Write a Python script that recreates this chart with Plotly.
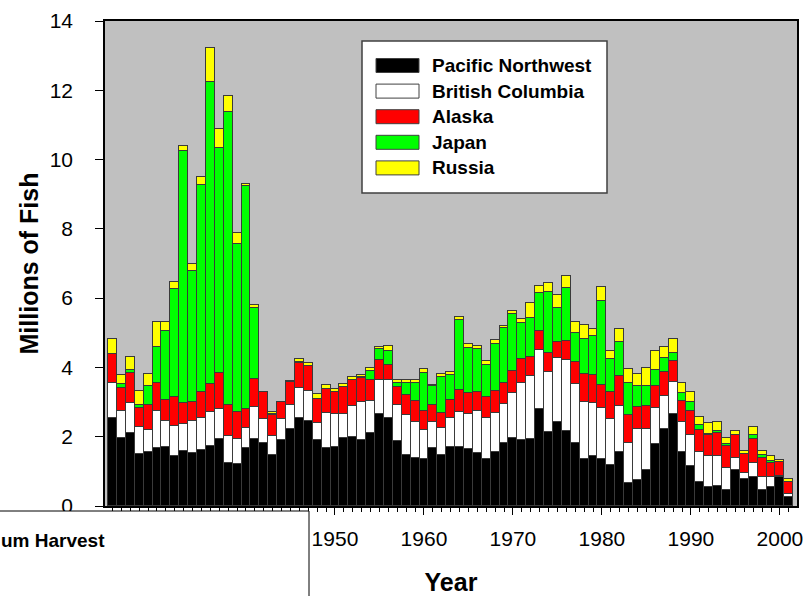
import plotly.graph_objects as go

years = list(range(1925, 2002))

pacific_northwest = [2.54, 1.95, 2.10, 1.50, 1.55, 1.66, 1.71, 1.44, 1.59, 1.52,
                     1.63, 1.74, 1.92, 1.25, 1.20, 1.68, 1.92, 1.82, 1.47, 1.90,
                     2.22, 2.53, 2.46, 1.90, 1.66, 1.69, 1.95, 2.00, 1.90, 2.10,
                     2.67, 2.54, 1.87, 1.48, 1.40, 1.37, 1.66, 1.48, 1.71, 1.71,
                     1.65, 1.53, 1.35, 1.56, 1.81, 1.95, 1.90, 1.92, 2.80, 2.14,
                     2.43, 2.16, 1.81, 1.35, 1.44, 1.37, 1.18, 1.55, 0.67, 0.75,
                     1.04, 1.79, 2.21, 2.67, 1.55, 1.15, 0.70, 0.54, 0.59, 0.46,
                     1.04, 0.78, 0.83, 0.46, 0.56, 0.83, 0.27]

british_columbia = [1.02, 0.80, 0.86, 0.77, 0.64, 1.08, 0.74, 0.87, 0.77, 0.94,
                    0.90, 0.96, 0.87, 0.77, 0.73, 0.58, 0.94, 0.68, 0.55, 0.60,
                    0.71, 0.88, 0.85, 0.50, 1.03, 0.98, 0.72, 0.90, 1.09, 0.93,
                    0.98, 1.09, 1.06, 1.16, 1.02, 0.81, 0.76, 0.76, 0.83, 0.99,
                    1.01, 1.22, 1.18, 1.13, 1.14, 1.30, 1.66, 1.83, 1.70, 1.73,
                    1.84, 2.05, 1.71, 1.64, 1.52, 1.45, 1.32, 1.34, 1.14, 1.46,
                    1.17, 1.04, 0.97, 0.91, 0.88, 0.90, 0.86, 0.91, 0.86, 0.63,
                    0.36, 0.18, 0.42, 0.38, 0.28, 0.05, 0.08]

alaska = [0.82, 0.67, 0.88, 0.57, 0.74, 0.82, 0.62, 0.84, 0.60, 0.53,
          0.76, 0.82, 1.05, 0.91, 0.79, 0.53, 0.82, 0.78, 0.62, 0.51,
          0.65, 0.73, 0.73, 0.68, 0.68, 0.62, 0.76, 0.75, 0.70, 0.61,
          0.56, 0.45, 0.51, 0.55, 0.61, 0.56, 0.51, 0.45, 0.51, 0.66,
          0.59, 0.53, 0.61, 0.62, 0.61, 0.64, 0.68, 0.56, 0.54, 0.56,
          0.45, 0.55, 0.64, 0.81, 0.82, 0.67, 0.79, 0.86, 0.83, 0.65,
          0.68, 0.63, 0.69, 0.60, 0.60, 0.69, 0.63, 0.60, 0.65, 0.65,
          0.65, 0.54, 0.67, 0.55, 0.41, 0.38, 0.33]

japan = [0.00, 0.09, 0.10, 0.09, 0.54, 1.03, 1.97, 3.12, 7.30, 3.79,
         5.99, 8.73, 6.49, 8.45, 4.85, 6.46, 2.05, 0.00, 0.02, 0.00,
         0.00, 0.02, 0.00, 0.02, 0.02, 0.00, 0.00, 0.00, 0.04, 0.27,
         0.31, 0.40, 0.12, 0.37, 0.53, 1.10, 0.52, 1.04, 0.72, 2.00,
         1.31, 1.24, 0.94, 1.38, 1.57, 1.64, 1.03, 1.13, 1.12, 1.76,
         1.01, 1.53, 0.82, 1.03, 1.13, 2.43, 0.95, 0.98, 0.92, 0.60,
         0.58, 0.48, 0.39, 0.25, 0.22, 0.25, 0.14, 0.02, 0.07, 0.04,
         0.00, 0.00, 0.13, 0.08, 0.06, 0.00, 0.00]

russia = [0.45, 0.26, 0.36, 0.38, 0.33, 0.72, 0.27, 0.21, 0.14, 0.21,
          0.21, 0.96, 0.55, 0.46, 0.32, 0.05, 0.06, 0.02, 0.06, 0.00,
          0.02, 0.09, 0.09, 0.12, 0.09, 0.08, 0.09, 0.08, 0.05, 0.08,
          0.07, 0.13, 0.08, 0.08, 0.08, 0.11, 0.04, 0.07, 0.09, 0.11,
          0.13, 0.09, 0.10, 0.09, 0.08, 0.10, 0.12, 0.43, 0.19, 0.24,
          0.37, 0.35, 0.33, 0.39, 0.19, 0.40, 0.23, 0.39, 0.39, 0.36,
          0.50, 0.54, 0.33, 0.38, 0.30, 0.30, 0.24, 0.33, 0.25, 0.17,
          0.12, 0.09, 0.24, 0.12, 0.13, 0.06, 0.09]

series_names = ["Pacific Northwest", "British Columbia", "Alaska", "Japan", "Russia"]
series_values = [pacific_northwest, british_columbia, alaska, japan, russia]
series_colors = ["#000000", "#FFFFFF", "#FF0000", "#00FF00", "#FFFF00"]

x_tick_values = [1950, 1960, 1970, 1980, 1990, 2000]
x_tick_labels = ["1950", "1960", "1970", "1980", "1990", "2000"]
y_tick_values = [0, 2, 4, 6, 8, 10, 12, 14]

FONT = "Arial, Liberation Sans, sans-serif"

fig = go.Figure()
for name, vals, col in zip(series_names, series_values, series_colors):
    fig.add_trace(go.Bar(
        x=years, y=vals, name=name,
        marker=dict(color=col, line=dict(color="#3a3a3a", width=1)),
        showlegend=False,
    ))

# plot-area geometry in pixels (for placing legend / overlay box)
L, R, T, B = 105, 10, 21, 90
W, H = 807, 596
pw, ph = W - L - R, H - T - B


def px_x(px):
    return (px - L) / pw


def px_y(py):
    return (H - B - py) / ph


shapes = []
annotations = []

# custom legend box
shapes.append(dict(type="rect", xref="paper", yref="paper",
                   x0=px_x(362), x1=px_x(607), y0=px_y(193), y1=px_y(41),
                   fillcolor="white", line=dict(color="#404040", width=1.5),
                   layer="above"))
row_centers = [65.5 + 25.6 * i for i in range(len(series_names))]
for name, col, cy in zip(series_names, series_colors, row_centers):
    shapes.append(dict(type="rect", xref="paper", yref="paper",
                       x0=px_x(376), x1=px_x(419), y0=px_y(cy + 7), y1=px_y(cy - 7),
                       fillcolor=col, line=dict(color="#404040", width=1),
                       layer="above"))
    annotations.append(dict(xref="paper", yref="paper", x=px_x(430), y=px_y(cy),
                            xanchor="left", yanchor="middle", showarrow=False,
                            text="<b>%s</b>" % name,
                            font=dict(family=FONT, size=19, color="black")))

# overlaying box at bottom-left
shapes.append(dict(type="rect", xref="paper", yref="paper",
                   x0=px_x(-5), x1=px_x(309), y0=px_y(640), y1=px_y(511),
                   fillcolor="white", line=dict(color="black", width=1),
                   layer="above"))
annotations.append(dict(xref="paper", yref="paper", x=px_x(107), y=px_y(540),
                        xanchor="right", yanchor="middle", showarrow=False,
                        text="<b>um Harvest</b>",
                        font=dict(family=FONT, size=19, color="black")))

fig.update_layout(
    width=W, height=H,
    margin=dict(l=L, r=R, t=T, b=B, pad=0, autoexpand=False),
    paper_bgcolor="white",
    plot_bgcolor="#C0C0C0",
    barmode="stack",
    bargap=0,
    font=dict(family=FONT, color="black"),
    shapes=shapes,
    annotations=annotations,
    xaxis=dict(
        range=[1924.16, 2001.92],
        automargin=False,
        tickmode="array", tickvals=x_tick_values, ticktext=x_tick_labels,
        ticks="outside", ticklen=7, tickwidth=1, tickcolor="black",
        minor=dict(tickmode="linear", tick0=1925, dtick=1, ticks="outside",
                   ticklen=4, tickwidth=1, tickcolor="black"),
        showline=True, linecolor="black", linewidth=1.5, mirror=True,
        showgrid=False, zeroline=False,
        tickfont=dict(size=21, family=FONT),
        ticklabelstandoff=6,
        title=dict(text="<b>Year</b>", font=dict(size=25), standoff=26),
    ),
    yaxis=dict(
        range=[0, 14],
        automargin=False,
        tickmode="array", tickvals=y_tick_values,
        ticks="outside", ticklen=8, tickwidth=1, tickcolor="black",
        showline=True, linecolor="black", linewidth=1.5, mirror=True,
        showgrid=False, zeroline=False,
        tickfont=dict(size=21, family=FONT),
        ticklabelstandoff=18,
        title=dict(text="<b>Millions of Fish</b>", font=dict(size=25), standoff=4),
    ),
)

fig.write_html("out.html", config={"displayModeBar": False},
               post_script="document.body.style.margin='0';document.body.style.overflow='hidden';")
